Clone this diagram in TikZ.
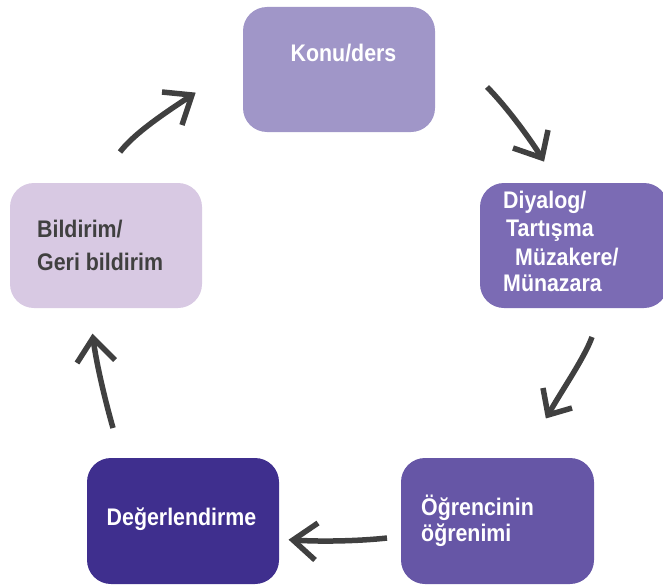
\documentclass[tikz,border=0pt]{standalone}
\usepackage{fontspec}
\newfontfamily\labfont{Liberation Sans}[FakeStretch=0.89]
\definecolor{cKonu}{HTML}{A096C8}
\definecolor{cDiy}{HTML}{7B6BB4}
\definecolor{cBil}{HTML}{D8C9E3}
\definecolor{cDeg}{HTML}{3F2F8E}
\definecolor{cOgr}{HTML}{6656A6}
\definecolor{cArr}{HTML}{404040}
\tikzset{
  box/.style={rectangle, rounded corners=24pt, draw=none, inner sep=0pt},
  lbl/.style={inner sep=0pt, font=\labfont\bfseries\fontsize{24}{28}\selectfont},
  arr/.style={draw=cArr, line width=5.5pt},
  head/.style={draw=cArr, line width=5.5pt, line join=miter},
}
\begin{document}
\begin{tikzpicture}[x=1pt,y=-1pt]
\useasboundingbox (0,0) rectangle (663,586);
% boxes
\node[box, fill=cKonu, minimum width=192pt, minimum height=125pt] (konu) at (339,69.5) {};
\node[box, fill=cDiy, minimum width=188pt, minimum height=125pt] (diy) at (574,245.5) {};
\node[box, fill=cBil, minimum width=192pt, minimum height=125pt] (bil) at (106,245.5) {};
\node[box, fill=cDeg, minimum width=192pt, minimum height=126pt] (deg) at (183,521) {};
\node[box, fill=cOgr, minimum width=193pt, minimum height=126pt] (ogr) at (497.5,521) {};
% labels
\node[lbl, text=white, anchor=base] (tkonu) at (343.5,61) {Konu/ders};
\node[lbl, text=white, anchor=base west] (tdiy1) at (503,208) {Diyalog/};
\node[lbl, text=white, anchor=base west] (tdiy2) at (506,236) {Tartışma};
\node[lbl, text=white, anchor=base west] (tdiy3) at (515,265) {Müzakere/};
\node[lbl, text=white, anchor=base west] (tdiy4) at (503,291) {Münazara};
\node[lbl, text=cArr, anchor=base west] (tbil1) at (37,237) {Bildirim/};
\node[lbl, text=cArr, anchor=base west] (tbil2) at (37,270) {Geri bildirim};
\node[lbl, text=white, anchor=base] (tdeg) at (181.5,525) {Değerlendirme};
\node[lbl, text=white, anchor=base west] (togr1) at (421,515) {Öğrencinin};
\node[lbl, text=white, anchor=base west] (togr2) at (421,541) {öğrenimi};
% arrow coordinates
\coordinate (a1s) at (120,152); \coordinate (a1e) at (192,95);
\coordinate (a1l) at (162,92);  \coordinate (a1r) at (182,125);
\coordinate (a2s) at (487,87);  \coordinate (a2e) at (542,158);
\coordinate (a2l) at (513,148); \coordinate (a2r) at (548,130);
\coordinate (a3s) at (592,337); \coordinate (a3e) at (548,415);
\coordinate (a3l) at (543,388); \coordinate (a3r) at (572,408);
\coordinate (a4s) at (387,538); \coordinate (a4e) at (293,540);
\coordinate (a4l) at (318,523); \coordinate (a4r) at (315,560);
\coordinate (a5s) at (113,428); \coordinate (a5e) at (93,338);
\coordinate (a5l) at (77,363);  \coordinate (a5r) at (115,360);
% arrows
\draw[arr] (a1s) .. controls (135,132) and (171,109) .. (a1e);
\draw[head] (a1l) -- (a1e) -- (a1r);
\draw[arr] (a2s) .. controls (505,105) and (529,137) .. (a2e);
\draw[head] (a2l) -- (a2e) -- (a2r);
\draw[arr] (a3s) .. controls (584,359) and (560,393) .. (a3e);
\draw[head] (a3l) -- (a3e) -- (a3r);
\draw[arr] (a4s) .. controls (360,541) and (320,542) .. (a4e);
\draw[head] (a4l) -- (a4e) -- (a4r);
\draw[arr] (a5s) .. controls (105,400) and (96,362) .. (a5e);
\draw[head] (a5l) -- (a5e) -- (a5r);
\end{tikzpicture}
\end{document}
